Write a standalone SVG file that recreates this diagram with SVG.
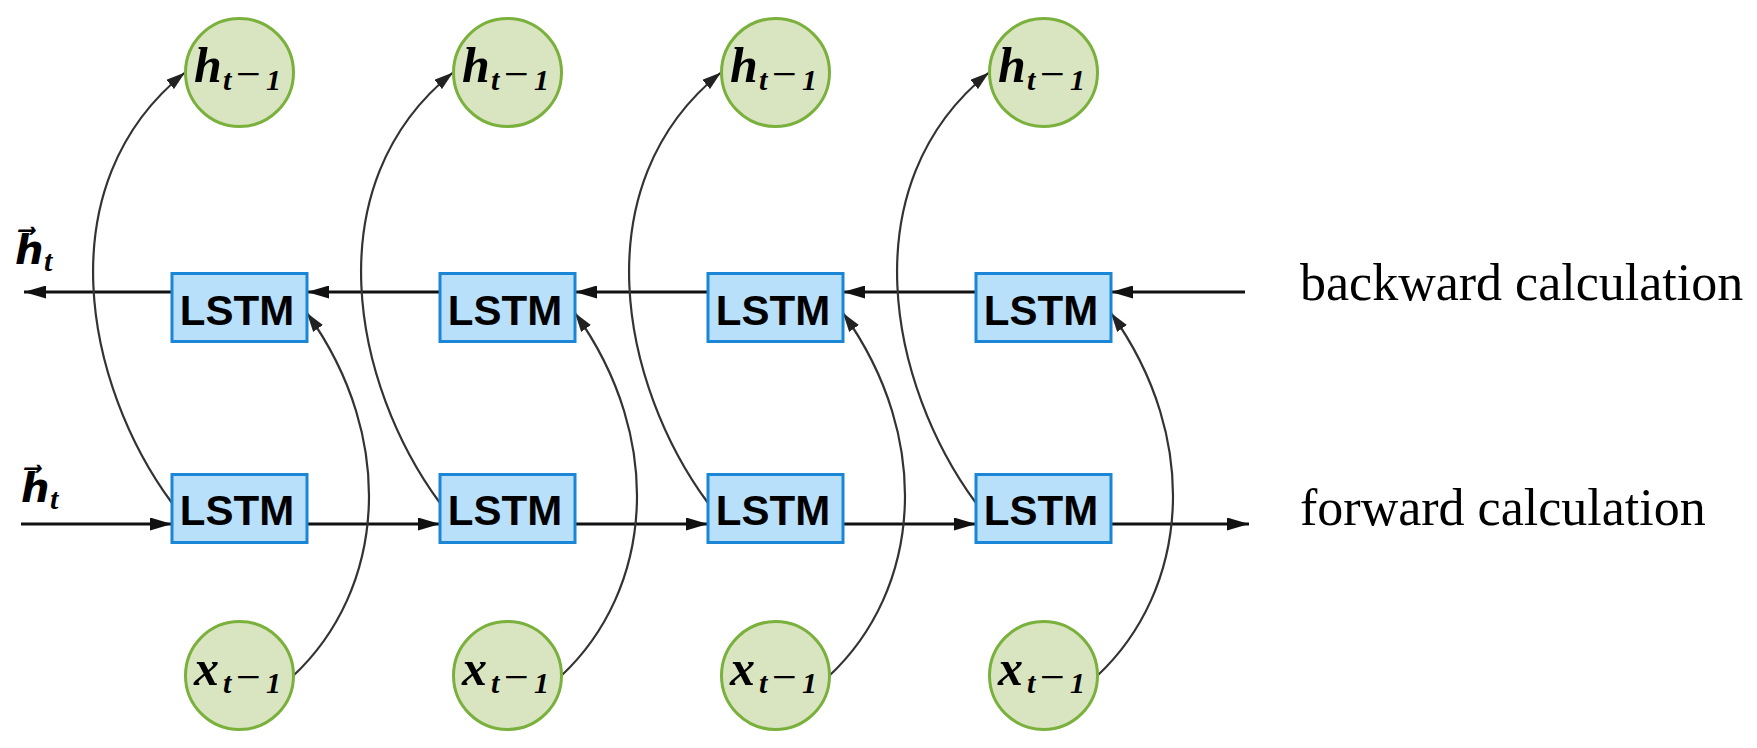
<svg xmlns="http://www.w3.org/2000/svg" width="1757" height="748" viewBox="0 0 1757 748">
<style>
.bg{fill:#ffffff}
.box{fill:#b9e0fb;stroke:#1b86d6;stroke-width:3}
.circ{fill:#d9e5c0;stroke:#7ab03c;stroke-width:3}
.lstm{font-family:"Liberation Sans",Arial,sans-serif;font-weight:bold;font-size:42px;fill:#000;text-anchor:middle}
.math{font-family:"Liberation Serif","Times New Roman",serif;font-style:italic;font-weight:bold;fill:#000}
.big{font-size:50px}
.sub{font-size:30px}
.minus{font-size:44px;font-style:normal;font-weight:normal}
.vh{font-family:"DejaVu Serif","DejaVu Sans",serif;font-size:40px}
.vsub{font-size:30px}
.desc{font-family:"Liberation Serif","Times New Roman",serif;font-size:52px;fill:#000}
.flow{fill:none;stroke:#111;stroke-width:3;marker-end:url(#ah)}
.curve{fill:none;stroke:#333;stroke-width:2.2;marker-end:url(#ahs)}
</style>
<defs>
<marker id="ah" viewBox="0 0 22 13" refX="22" refY="6.5" markerWidth="22" markerHeight="13" markerUnits="userSpaceOnUse" orient="auto"><path d="M0,0 L22,6.5 L0,13 z" fill="#111"/></marker>
<marker id="ahs" viewBox="0 0 19 12" refX="19" refY="6" markerWidth="19" markerHeight="12" markerUnits="userSpaceOnUse" orient="auto"><path d="M0,0 L19,6 L0,12 z" fill="#222"/></marker>
</defs>
<rect class="bg" x="0" y="0" width="1757" height="748"/>

<g id="connectors">
  <path class="flow" d="M1245,292 L1111,292"/>
  <path class="flow" d="M976,292 L843,292"/>
  <path class="flow" d="M708,292 L575,292"/>
  <path class="flow" d="M440,292 L307,292"/>
  <path class="flow" d="M172,292 L24,292"/>
  <path class="flow" d="M21,524 L172,524"/>
  <path class="flow" d="M307,524 L440,524"/>
  <path class="flow" d="M575,524 L708,524"/>
  <path class="flow" d="M843,524 L976,524"/>
  <path class="flow" d="M1111,524 L1249,524"/>
  <path class="curve" d="M172,503 C85,385 45,185 185,72.5"/>
  <path class="curve" d="M440,503 C353,385 313,185 453,72.5"/>
  <path class="curve" d="M708,503 C621,385 581,185 721,72.5"/>
  <path class="curve" d="M976,503 C889,385 849,185 989,72.5"/>
  <path class="curve" d="M293,676 C385,590 398,440 307,313"/>
  <path class="curve" d="M561,676 C653,590 666,440 575,313"/>
  <path class="curve" d="M829,676 C921,590 934,440 843,313"/>
  <path class="curve" d="M1097,676 C1189,590 1202,440 1111,313"/>
</g>

<g id="lstm-b1"><rect class="box" x="172" y="273.5" width="135" height="68"/><text class="lstm" x="237" y="325">LSTM</text></g>
<g id="lstm-b2"><rect class="box" x="440" y="273.5" width="135" height="68"/><text class="lstm" x="505" y="325">LSTM</text></g>
<g id="lstm-b3"><rect class="box" x="708" y="273.5" width="135" height="68"/><text class="lstm" x="773" y="325">LSTM</text></g>
<g id="lstm-b4"><rect class="box" x="976" y="273.5" width="135" height="68"/><text class="lstm" x="1041" y="325">LSTM</text></g>

<g id="lstm-f1"><rect class="box" x="172" y="474.5" width="135" height="68"/><text class="lstm" x="237" y="525">LSTM</text></g>
<g id="lstm-f2"><rect class="box" x="440" y="474.5" width="135" height="68"/><text class="lstm" x="505" y="525">LSTM</text></g>
<g id="lstm-f3"><rect class="box" x="708" y="474.5" width="135" height="68"/><text class="lstm" x="773" y="525">LSTM</text></g>
<g id="lstm-f4"><rect class="box" x="976" y="474.5" width="135" height="68"/><text class="lstm" x="1041" y="525">LSTM</text></g>

<g id="h1"><circle class="circ" cx="239.5" cy="72.5" r="54"/><text class="math"><tspan class="big" x="194" y="82">h</tspan><tspan class="sub" x="223" y="90">t</tspan><tspan class="minus" x="236" y="89">−</tspan><tspan class="sub" x="266" y="90">1</tspan></text></g>
<g id="h2"><circle class="circ" cx="507.5" cy="72.5" r="54"/><text class="math"><tspan class="big" x="462" y="82">h</tspan><tspan class="sub" x="491" y="90">t</tspan><tspan class="minus" x="504" y="89">−</tspan><tspan class="sub" x="534" y="90">1</tspan></text></g>
<g id="h3"><circle class="circ" cx="775.5" cy="72.5" r="54"/><text class="math"><tspan class="big" x="730" y="82">h</tspan><tspan class="sub" x="759" y="90">t</tspan><tspan class="minus" x="772" y="89">−</tspan><tspan class="sub" x="802" y="90">1</tspan></text></g>
<g id="h4"><circle class="circ" cx="1043.5" cy="72.5" r="54"/><text class="math"><tspan class="big" x="998" y="82">h</tspan><tspan class="sub" x="1027" y="90">t</tspan><tspan class="minus" x="1040" y="89">−</tspan><tspan class="sub" x="1070" y="90">1</tspan></text></g>

<g id="x1"><circle class="circ" cx="239.5" cy="675.5" r="54"/><text class="math"><tspan class="big" x="194" y="685">x</tspan><tspan class="sub" x="223" y="693">t</tspan><tspan class="minus" x="236" y="692">−</tspan><tspan class="sub" x="266" y="693">1</tspan></text></g>
<g id="x2"><circle class="circ" cx="507.5" cy="675.5" r="54"/><text class="math"><tspan class="big" x="462" y="685">x</tspan><tspan class="sub" x="491" y="693">t</tspan><tspan class="minus" x="504" y="692">−</tspan><tspan class="sub" x="534" y="693">1</tspan></text></g>
<g id="x3"><circle class="circ" cx="775.5" cy="675.5" r="54"/><text class="math"><tspan class="big" x="730" y="685">x</tspan><tspan class="sub" x="759" y="693">t</tspan><tspan class="minus" x="772" y="692">−</tspan><tspan class="sub" x="802" y="693">1</tspan></text></g>
<g id="x4"><circle class="circ" cx="1043.5" cy="675.5" r="54"/><text class="math"><tspan class="big" x="998" y="685">x</tspan><tspan class="sub" x="1027" y="693">t</tspan><tspan class="minus" x="1040" y="692">−</tspan><tspan class="sub" x="1070" y="693">1</tspan></text></g>

<g id="label-back-h">
  <text class="math"><tspan class="vh" x="15" y="264">h&#x20D7;</tspan><tspan class="vsub" x="44" y="271">t</tspan></text>
</g>
<g id="label-fwd-h">
  <text class="math"><tspan class="vh" x="21" y="502">h&#x20D7;</tspan><tspan class="vsub" x="50" y="509">t</tspan></text>
</g>

<g id="label-backward"><text class="desc" x="1300" y="300">backward calculation</text></g>
<g id="label-forward"><text class="desc" x="1300" y="525">forward calculation</text></g>
</svg>
